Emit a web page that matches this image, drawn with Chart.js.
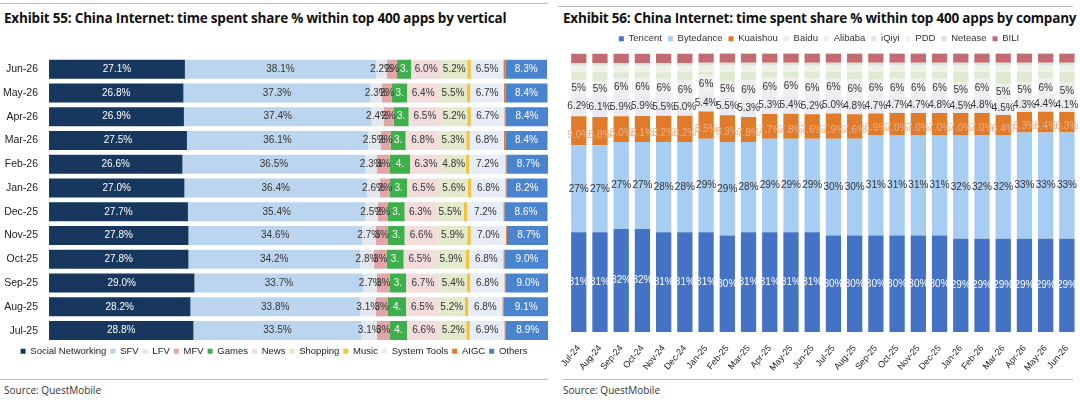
<!DOCTYPE html>
<html>
<head>
<meta charset="utf-8">
<script src="https://cdn.jsdelivr.net/npm/chart.js@4"></script>
<style>
  body { margin: 0; width: 1080px; height: 400px; background: #fff; font-family: "Liberation Sans", Arial, sans-serif; position: relative; overflow: hidden; }
  .title { position: absolute; top: 9px; font-family: "Open Sans", sans-serif; font-weight: bold; font-size: 13.5px; color: #111; letter-spacing: -0.2px; }
  .rule { position: absolute; height: 1px; background: #bbb; }
  .src { position: absolute; top: 383px; font-family: "Open Sans", sans-serif; font-size: 10px; color: #333; }
  canvas { position: absolute; }
</style>
</head>
<body>
<div class="rule" style="left:0;top:3px;width:548px"></div>
<div class="rule" style="left:558px;top:6px;width:515px"></div>
<div class="title" style="left:4px">Exhibit 55: China Internet: time spent share % within top 400 apps by vertical</div>
<div class="title" style="left:563px">Exhibit 56: China Internet: time spent share % within top 400 apps by company</div>
<div class="rule" style="left:0;top:379px;width:548px"></div>
<div class="rule" style="left:563px;top:379px;width:510px"></div>
<div class="src" style="left:4px">Source: QuestMobile</div>
<div class="src" style="left:563px">Source: QuestMobile</div>
<div style="position:absolute;left:0;top:48px;width:552px;height:318px"><canvas id="left"></canvas></div>
<div style="position:absolute;left:560px;top:28px;width:518px;height:348px"><canvas id="right"></canvas></div>
<script>
// ---- Exhibit 55 data (rows top to bottom) ----
const months55 = ["Jun-26","May-26","Apr-26","Mar-26","Feb-26","Jan-26","Dec-25","Nov-25","Oct-25","Sep-25","Aug-25","Jul-25"];
const social   = [27.1,26.8,26.9,27.5,26.6,27.0,27.7,27.8,27.8,29.0,28.2,28.8];
const sfv      = [38.1,37.3,37.4,36.1,36.5,36.4,35.4,34.6,34.2,33.7,33.8,33.5];
const lfv      = [2.2,2.3,2.4,2.5,2.3,2.6,2.5,2.7,2.8,2.7,3.1,3.1];
const mfv      = [2.0,2.0,2.0,2.0,2.5,2.0,2.0,2.5,2.5,2.5,2.5,2.5];
const games    = [2.8,3.0,3.0,3.0,4.1,3.4,3.3,3.3,3.4,3.3,3.6,3.5];
const news     = [6.0,6.4,6.5,6.8,6.3,6.5,6.3,6.6,6.5,6.7,6.5,6.6];
const shopping = [5.2,5.5,5.2,5.3,4.8,5.6,5.5,5.9,5.9,5.4,5.2,5.2];
const music    = [0.7,0.7,0.7,0.7,0.7,0.7,0.7,0.7,0.7,0.7,0.7,0.7];
const sysTools = [6.5,6.7,6.7,6.8,7.2,6.8,7.2,7.0,6.8,6.8,6.8,6.9];
const aigc     = [0.4,0.3,0.3,0.3,0.2,0.2,0.2,0.2,0.2,0.2,0.2,0.2];
const others   = [8.3,8.4,8.4,8.4,8.7,8.2,8.6,8.7,9.0,9.0,9.1,8.9];

// ---- Exhibit 56 data ----
const months56 = ["Jul-24","Aug-24","Sep-24","Oct-24","Nov-24","Dec-24","Jan-25","Feb-25","Mar-25","Apr-25","May-25","Jun-25",
                  "Jul-25","Aug-25","Sep-25","Oct-25","Nov-25","Dec-25","Jan-26","Feb-26","Mar-26","Apr-26","May-26","Jun-26"];
const tencent   = [31,31,32,32,31,31,31,30,31,31,31,31,30,30,30,30,30,30,29,29,29,29,29,29];
const bytedance = [27,27,27,27,28,28,29,29,28,29,29,29,30,30,31,31,31,31,32,32,32,33,33,33];
const kuaishou  = [9.0,8.8,8.0,8.1,8.2,8.2,8.5,8.3,7.8,7.7,7.8,7.6,7.9,7.6,6.9,7.0,7.0,7.0,7.0,7.0,6.4,6.3,6.4,6.3];
const baidu     = [6.2,6.1,5.9,5.9,5.5,5.0,5.4,5.5,5.3,5.3,5.4,5.2,5.0,4.8,4.7,4.7,4.7,4.8,4.5,4.8,4.5,4.3,4.4,4.1];
const alibaba   = [5,5,6,6,6,6,6,5,6,6,6,6,6,6,6,6,6,6,5,6,5,5,6,5];
const iqiyi     = [2.5,2.8,1.8,1.7,2.0,2.5,0.9,3.0,2.7,1.8,1.6,2.0,1.9,2.4,2.2,2.1,2.1,2.0,3.3,2.0,3.9,3.2,2.0,3.4];
const pdd       = [2.0,2.0,2.0,2.0,2.0,2.0,2.0,2.0,2.0,2.0,2.0,2.0,2.0,2.0,2.0,2.0,2.0,2.0,2.0,2.0,2.0,2.0,2.0,2.0];
const netease   = [0.8,0.8,0.8,0.8,0.8,0.8,0.8,0.8,0.8,0.8,0.8,0.8,0.8,0.8,0.8,0.8,0.8,0.8,0.8,0.8,0.8,0.8,0.8,0.8];
const bili      = [3.0,3.0,3.0,3.0,3.0,3.0,3.0,3.0,3.0,3.0,3.0,3.0,3.0,3.0,3.0,3.0,3.0,3.0,3.0,3.0,3.0,3.0,3.0,3.0];

// draws value labels in the middle of each bar segment
const barLabels = {
  id: "barLabels",
  afterDatasetsDraw(chart) {
    const ctx = chart.ctx;
    chart.data.datasets.forEach((ds, i) => {
      if (!ds.fmt) return;
      const meta = chart.getDatasetMeta(i);
      meta.data.forEach((bar, j) => {
        const p = bar.getCenterPoint();
        ctx.save();
        ctx.font = ds.labelFont || "10px 'Liberation Sans', Arial";
        ctx.fillStyle = ds.labelColor || "#333";
        ctx.textAlign = "center";
        ctx.textBaseline = "middle";
        ctx.fillText(ds.fmt(ds.data[j]), p.x, p.y + (ds.labelDy || 0));
        ctx.restore();
      });
    });
  }
};

const pct1 = v => v.toFixed(1) + "%";
const pct0 = v => Math.round(v) + "%";

function ds(label, data, color, fmt, labelColor) {
  return { label, data, backgroundColor: color, fmt, labelColor, borderWidth: 0 };
}

new Chart(document.getElementById("left"), {
  type: "bar",
  data: {
    labels: months55,
    datasets: [
      ds("Social Networking", social, "#17375e", pct1, "#fff"),
      ds("SFV", sfv, "#bcd5ee", pct1, "#333"),
      ds("LFV", lfv, "#e3e8ef", pct1, "#333"),
      ds("MFV", mfv, "#e3a6a8", v => Math.round(v) + "%", "#333"),
      ds("Games", games, "#3daf4b", v => v.toFixed(0) + ".", "#fff"),
      ds("News", news, "#f3dcdc", pct1, "#333"),
      ds("Shopping", shopping, "#e2eacb", pct1, "#333"),
      ds("Music", music, "#f0c43f", null),
      ds("System Tools", sysTools, "#e6edf6", pct1, "#333"),
      ds("AIGC", aigc, "#e07b2a", null),
      ds("Others", others, "#4a84cf", pct1, "#fff")
    ]
  },
  options: {
    indexAxis: "y",
    responsive: true,
    maintainAspectRatio: false,
    animation: false,
    datasets: { bar: { categoryPercentage: 0.8, barPercentage: 1 } },
    layout: { padding: { right: 4 } },
    scales: {
      x: { stacked: true, display: false, min: 0, max: 99.5 },
      y: { stacked: true, grid: { display: false }, border: { display: false },
           ticks: { color: "#222", font: { size: 10.5, family: "'Liberation Sans', Arial" } } }
    },
    plugins: {
      tooltip: { enabled: false },
      legend: { position: "bottom",
        labels: { boxWidth: 5, boxHeight: 5, padding: 4, color: "#222", font: { size: 9.5 } } }
    }
  },
  plugins: [barLabels]
});

new Chart(document.getElementById("right"), {
  type: "bar",
  data: {
    labels: months56,
    datasets: [
      ds("Tencent", tencent, "#4472c4", pct0, "#fff"),
      ds("Bytedance", bytedance, "#a8cdf3", pct0, "#333"),
      Object.assign(ds("Kuaishou", kuaishou, "#e07b2a", pct1, "#eab08a"), { labelDy: 4 }),
      ds("Baidu", baidu, "#eaeaf0", pct1, "#333"),
      ds("Alibaba", alibaba, "#efefef", pct0, "#333"),
      ds("iQiyi", iqiyi, "#dfead2", null),
      ds("PDD", pdd, "#eef3e6", null),
      ds("Netease", netease, "#d9e4dc", null),
      ds("BILI", bili, "#c26b72", null)
    ]
  },
  options: {
    responsive: true,
    maintainAspectRatio: false,
    animation: false,
    datasets: { bar: { categoryPercentage: 1, barPercentage: 0.72 } },
    scales: {
      x: { stacked: true, grid: { display: false }, border: { display: false },
           ticks: { maxRotation: 50, minRotation: 50, color: "#222", font: { size: 9 } } },
      y: { stacked: true, display: false, min: 0, max: 86.5 }
    },
    plugins: {
      tooltip: { enabled: false },
      legend: { position: "top",
        labels: { boxWidth: 5, boxHeight: 5, padding: 6, color: "#333", font: { size: 9.5 } } }
    }
  },
  plugins: [barLabels]
});
</script>
</body>
</html>
